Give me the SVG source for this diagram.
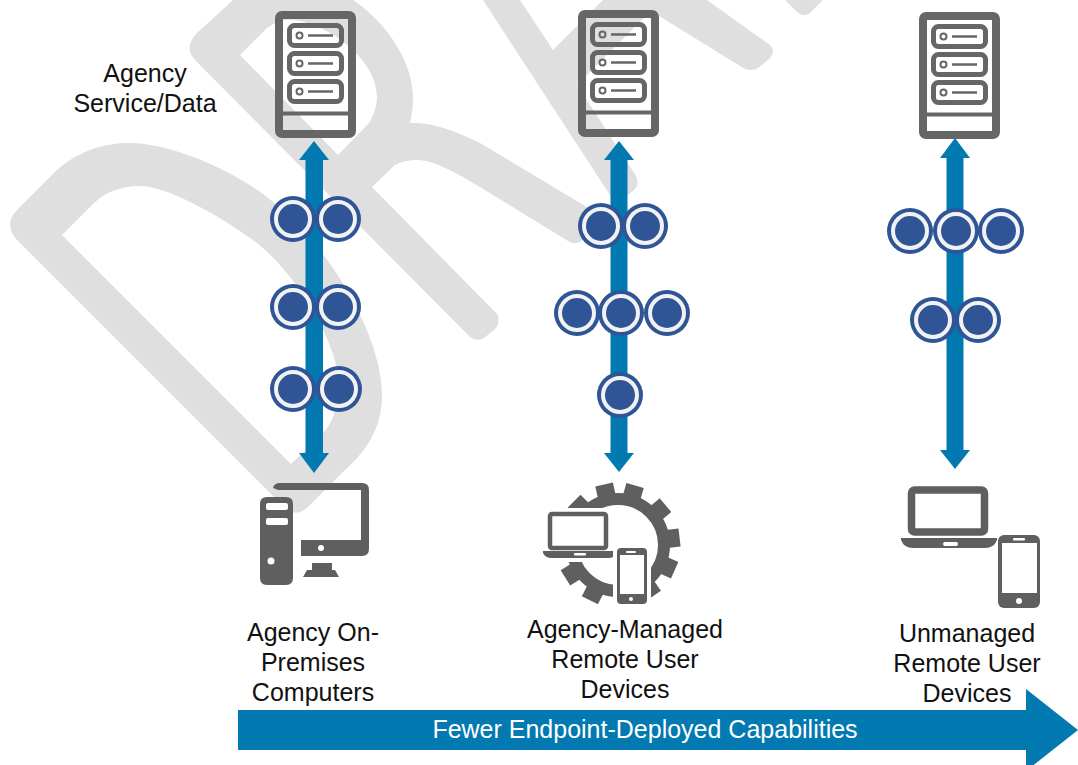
<svg xmlns="http://www.w3.org/2000/svg" width="1078" height="765" viewBox="0 0 1078 765">
<style>
.wm{fill:#dfdfdf;fill-rule:evenodd}
.lbl{font-family:"Liberation Sans",Arial,sans-serif;font-size:25px;fill:#111;text-anchor:middle}
.shaft{fill:#0279b0}
.ring{fill:#2f5597;stroke:#f2f2f2;stroke-width:4}
.halo{fill:#2f5597}
.ic{fill:#5f5f5f}
.wh{fill:#fff}
.srv{fill:none;stroke:#666;stroke-width:8}
.srv2{fill:none;stroke:#666;stroke-width:5}
</style>
<defs>
<g id="token"><circle class="halo" r="23"/><circle class="ring" r="17"/></g>
<rect id="tooth" class="ic" x="-9" y="-62" width="18" height="17"/>
<g id="unit"><rect class="srv2" x="14.500" y="14.500" width="52" height="20" rx="5"/><circle cx="24.500" cy="24.500" r="3" fill="none" stroke="#666" stroke-width="2"/><path d="M33 24.500H58" stroke="#666" stroke-width="2.500"/></g>
<g id="server">
<rect class="srv" x="4" y="4" width="73" height="119" rx="3"/>
<path d="M4 102.500H77" fill="none" stroke="#666" stroke-width="4"/>
<use href="#unit"/><use href="#unit" y="28"/><use href="#unit" y="56"/>
</g>
</defs>
<g id="watermark">
<path class="wm" d="M17 210L57 170C80 150 105 143 130 143C165 143 225 165 267 197C335 250 382 340 382 395C382 430 365 452 345 470L312 503Q300 517 288 511L17 240Q3 224 17 210ZM62 235L95 202C108 191 122 186 140 186C165 186 215 212 257 243C300 278 338 345 339 385Q339 412 325 431L291 464Z"/>
<path class="wm" d="M197 33L233 0H353C390 25 413 65 413 97Q413 112 410 123C430 122 452 129 480 143L580 203L600 215L590 235L580 242Q574 245 568 241L480 187C452 170 432 160 417 160Q405 160 395 165L372 187L498 315Q500 325 494 330L484 338Q476 343 468 335L195 60Q183 47 197 33ZM240 55L267 28Q280 18 295 20C330 25 377 60 377 97Q377 108 370 122L338 155Z"/>
<path class="wm" d="M483 0L608 192Q615 204 624 198L634 190Q640 184 636 176L577 85L651 11L740 66Q750 73 758 68L768 60Q777 52 770 45L707 0H603L553 50L520 0Z"/>
<path class="wm" d="M785 0L797 12Q803 18 810 13L823 0Z"/>
</g>
<g id="connectors">
<path class="shaft" d="M314 141L329 160H323V453H329L314 473L299 453H305.500V160H299Z"/>
<path class="shaft" d="M619 141L634 160H627.500V453H634L619 472L604 453H610.500V160H604Z"/>
<path class="shaft" d="M955 138L970 158H963.500V450H970L955 469L940 450H946.500V158H940Z"/>
</g>
<g id="tokens">
<use href="#token" x="293" y="219"/><use href="#token" x="338" y="219"/>
<use href="#token" x="293" y="307"/><use href="#token" x="338" y="307"/>
<use href="#token" x="293" y="389"/><use href="#token" x="339" y="389"/>
<use href="#token" x="601" y="226"/><use href="#token" x="645" y="226"/>
<use href="#token" x="577" y="313"/><use href="#token" x="621" y="313"/><use href="#token" x="667" y="313"/>
<use href="#token" x="620" y="395"/>
<use href="#token" x="910" y="231"/><use href="#token" x="956" y="231"/><use href="#token" x="1001" y="231"/>
<use href="#token" x="933" y="320"/><use href="#token" x="978" y="320"/>
</g>
<g id="server-1"><use href="#server" x="275" y="11"/></g>
<g id="server-2"><use href="#server" x="578" y="10"/></g>
<g id="server-3"><use href="#server" x="919" y="12"/></g>
<g id="label-service"><text class="lbl" x="145" y="82">Agency</text><text class="lbl" x="145" y="112">Service/Data</text></g>
<g id="on-prem">
<path class="ic" d="M273 488Q274 483 280 483H362Q369 483 369 490V549Q369 556 362 556H301V540H361V490H278Z"/>
<circle class="wh" cx="321" cy="548" r="3"/>
<path class="ic" d="M312 563H332V570H335L339 577H303L307 570H312Z"/>
<path class="ic" d="M267 497H286Q293 497 293 504V578Q293 585 286 585H267Q260 585 260 578V504Q260 497 267 497Z"/>
<rect class="wh" x="266" y="503" width="22" height="7" rx="2"/><rect class="wh" x="266" y="518" width="22" height="7" rx="2"/>
<circle class="wh" cx="271" cy="561" r="3.500"/>
<text class="lbl" x="313" y="641">Agency On-</text><text class="lbl" x="313" y="671">Premises</text><text class="lbl" x="313" y="701">Computers</text>
</g>
<g id="managed">
<circle cx="618" cy="545" r="46" fill="none" stroke="#5f5f5f" stroke-width="12"/>
<g transform="translate(618 545)">
<use href="#tooth" transform="rotate(-13)"/><use href="#tooth" transform="rotate(16)"/><use href="#tooth" transform="rotate(50)"/><use href="#tooth" transform="rotate(83)"/><use href="#tooth" transform="rotate(114)"/><use href="#tooth" transform="rotate(145)"/><use href="#tooth" transform="rotate(207)"/><use href="#tooth" transform="rotate(238)"/><use href="#tooth" transform="rotate(315)"/>
</g>
<rect class="wh" x="538" y="508" width="84" height="54"/>
<rect x="550" y="514" width="56" height="34" rx="2" fill="#fff" stroke="#5f5f5f" stroke-width="4.500"/>
<path class="ic" d="M543 551H617V553Q615 558 608 558H552Q545 558 543 553Z"/>
<rect class="wh" x="574" y="553" width="12" height="2.500" rx="1"/>
<rect class="wh" x="613" y="544" width="38" height="64"/>
<rect class="ic" x="617" y="548" width="30" height="56" rx="4"/>
<rect class="wh" x="620" y="555" width="24" height="39"/>
<rect class="wh" x="626" y="551" width="10" height="2" rx="1"/>
<circle class="wh" cx="631" cy="599" r="2"/>
<text class="lbl" x="625" y="638">Agency-Managed</text><text class="lbl" x="625" y="668">Remote User</text><text class="lbl" x="625" y="698">Devices</text>
</g>
<g id="unmanaged">
<rect x="911.500" y="490" width="73" height="42" rx="3" fill="#fff" stroke="#5f5f5f" stroke-width="7.500"/>
<path class="ic" d="M901 538H997V540Q994 548 985 548H913Q904 548 901 540Z"/>
<rect class="wh" x="943" y="542" width="15" height="4" rx="2"/>
<rect class="ic" x="998" y="535" width="42" height="73" rx="6"/>
<rect class="wh" x="1002" y="543" width="35" height="50"/>
<rect class="wh" x="1013" y="538" width="12" height="2.500" rx="1"/>
<circle class="wh" cx="1019" cy="601" r="3"/>
<text class="lbl" x="967" y="642">Unmanaged</text><text class="lbl" x="967" y="672">Remote User</text><text class="lbl" x="967" y="702">Devices</text>
</g>
<g id="capability-arrow">
<path class="shaft" d="M238 710H1026V689L1078 730L1026 771V750H238Z"/>
<text x="645" y="738" font-family="'Liberation Sans',Arial,sans-serif" font-size="25" fill="#fff" text-anchor="middle">Fewer Endpoint-Deployed Capabilities</text>
</g>
</svg>
